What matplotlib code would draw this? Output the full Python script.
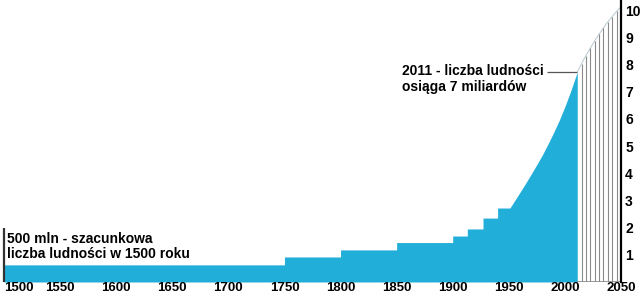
import numpy as np
import matplotlib
matplotlib.use("Agg")
import matplotlib.pyplot as plt

plt.rcParams['font.family'] = ['Liberation Sans', 'DejaVu Sans']

# population steps (billions): edges and level between them
step_edges = [1500, 1750, 1800, 1850, 1900, 1913, 1927, 1940, 1951]
step_vals = [0.63, 0.92, 1.18, 1.45, 1.69, 1.95, 2.35, 2.72]

# smooth growth up to 2011
curve_years = [1951, 1955, 1960, 1965, 1970, 1975, 1980, 1985, 1990, 1995, 2000, 2005, 2011]
curve_vals = [2.72, 2.98, 3.3, 3.63, 3.97, 4.32, 4.68, 5.08, 5.5, 5.95, 6.45, 7.0, 7.72]

# projection 2011-2050
proj_years = [2011, 2017, 2027, 2037, 2045, 2050]
proj_vals = [7.72, 8.2, 8.9, 9.5, 9.9, 10.12]

x_ticks = [1500, 1550, 1600, 1650, 1700, 1750, 1800, 1850, 1900, 1950, 2000, 2050]
y_ticks = [1, 2, 3, 4, 5, 6, 7, 8, 9, 10]

blue = '#21aed8'
fs = 10

fig = plt.figure(figsize=(6.4, 2.95), dpi=100)
ax = fig.add_axes([4 / 640, 13 / 295, 617 / 640, 282 / 295])
ax.set_xlim(1500, 2050)
ax.set_ylim(0, 282 / 27.2)

# one outline: staircase + curve, so no seam between them
sx = np.repeat(step_edges, 2)[1:-1]
sy = np.repeat(step_vals, 2)
xs = np.concatenate([sx, curve_years[1:]])
ys = np.concatenate([sy, curve_vals[1:]])
ax.fill_between(xs, ys, color=blue, lw=0)

# hatched projection area
py = np.linspace(2011, 2050, 60)
ax.plot(py, np.interp(py, proj_years, proj_vals), color='#b8c8d0', lw=0.7)
hx = np.linspace(2011, 2050, 11)[1:-1]
ax.vlines(hx, 0, np.interp(hx, proj_years, proj_vals), color='#8a8a8a', lw=0.8)
ax.hlines(0, 2011, 2050, color='#8a8a8a', lw=1.2)

# annotations
ax.vlines(1500, 0, 1.99, color='#333333', lw=1.6, clip_on=False)
ax.text(1502.7, 1.85, '500 mln - szacunkowa\nliczba ludności w 1500 roku',
        fontsize=fs, fontweight='bold', va='top', ha='left', linespacing=1.1)
ax.hlines(7.72, 1984, 2011, color='#555555', lw=0.9)
ax.text(1854.5, 8.0, '2011 - liczba ludności\nosiąga 7 miliardów',
        fontsize=fs, fontweight='bold', va='top', ha='left', linespacing=1.1)

for s in ['left', 'top', 'bottom']:
    ax.spines[s].set_visible(False)
ax.spines['right'].set_linewidth(1.6)

ax.yaxis.tick_right()
ax.set_yticks(y_ticks)
ax.set_yticklabels([str(v) for v in y_ticks], fontsize=fs, fontweight='bold')
ax.tick_params(axis='y', length=0, pad=3)

ax.set_xticks(x_ticks)
ax.set_xticklabels([str(v) for v in x_ticks], fontsize=9.5, fontweight='bold')
ax.tick_params(axis='x', length=0, pad=0)
ax.get_xticklabels()[0].set_ha('left')

fig.savefig('out.png', dpi=100)
